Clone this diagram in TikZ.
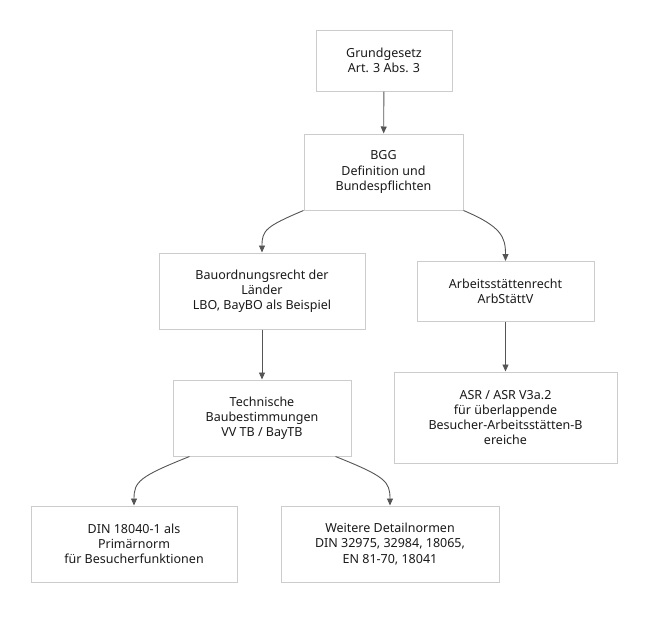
\documentclass[tikz,border=0pt]{standalone}
\usepackage{fontspec}
\setmainfont{Noto Sans}
\usetikzlibrary{arrows.meta}
\definecolor{boxline}{HTML}{CCCCCC}
\definecolor{arrowline}{HTML}{555555}
\definecolor{txt}{HTML}{1A1A1A}
\begin{document}
\begin{tikzpicture}[x=1pt,y=1pt,
  box/.style={draw=boxline,line width=1pt,fill=white,align=center,text=txt,
    font=\fontsize{12.5}{15.2}\selectfont,inner sep=0pt},
  arr/.style={draw=arrowline,line width=0.9pt,-{Triangle[length=7pt,width=6pt]}}]
\useasboundingbox (0,0) rectangle (648,-624);
\node[box,minimum width=136,minimum height=61] (gg) at (384,-60.5) {Grundgesetz\\Art. 3 Abs. 3};
\node[box,minimum width=159,minimum height=76] (bgg) at (383.5,-172) {BGG\\Definition und\\Bundespflichten};
\node[box,minimum width=206,minimum height=76] (bau) at (262,-291) {Bauordnungsrecht der\\Länder\\LBO, BayBO als Beispiel};
\node[box,minimum width=177,minimum height=60] (arb) at (505.5,-291.5) {Arbeitsstättenrecht\\ArbStättV};
\node[box,minimum width=178,minimum height=76] (tech) at (262,-418) {Technische\\Baubestimmungen\\VV TB / BayTB};
\node[box,minimum width=223,minimum height=91] (asr) at (505.5,-417.5) {ASR / ASR V3a.2\\für überlappende\\Besucher-Arbeitsstätten-B\\ereiche};
\node[box,minimum width=206,minimum height=76] (din) at (134,-544) {DIN 18040-1 als\\Primärnorm\\für Besucherfunktionen};
\node[box,minimum width=218,minimum height=76] (wei) at (390,-544) {Weitere Detailnormen\\DIN 32975, 32984, 18065,\\EN 81-70, 18041};
\coordinate (techL) at ([xshift=17]tech.south west);
\coordinate (techR) at ([xshift=-16]tech.south east);
\draw[arr] (gg) -- (bgg);
\draw[arr] (bgg.south west) .. controls +(-38,-16) and +(0,22) .. (bau.north);
\draw[arr] (bgg.south east) .. controls +(38,-16) and +(0,24) .. (arb.north);
\draw[arr] (bau) -- (tech);
\draw[arr] (arb) -- (asr);
\draw[arr] (techL) .. controls +(-50,-20) and +(0,24) .. (din.north);
\draw[arr] (techR) .. controls +(50,-20) and +(0,24) .. (wei.north);
\end{tikzpicture}
\end{document}
